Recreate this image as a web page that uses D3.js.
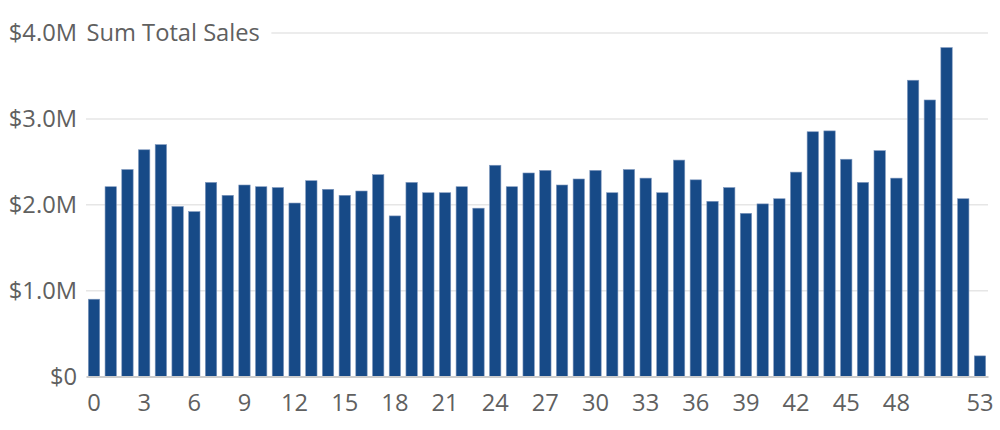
<!DOCTYPE html>
<html lang="en">
  <head>
    <meta charset="UTF-8" />
    <title>Sum Total Sales</title>
    <script src="https://cdn.jsdelivr.net/npm/d3@7"></script>
    <style>
      html, body { margin: 0; padding: 0; background: #fff; }
      svg text { font-family: 'Open Sans', 'Liberation Sans', Arial, sans-serif; fill: #606060; }
    </style>
  </head>
  <body>
    <div id="chart_svg"></div>
    <script>
      const weeks = [
        0, 1, 2, 3, 4, 5, 6, 7, 8, 9, 10, 11, 12, 13, 14, 15, 16, 17,
        18, 19, 20, 21, 22, 23, 24, 25, 26, 27, 28, 29, 30, 31, 32, 33, 34, 35,
        36, 37, 38, 39, 40, 41, 42, 43, 44, 45, 46, 47, 48, 49, 50, 51, 52, 53
      ]
      // weekly totals in $M
      const sales = [
        0.90, 2.21, 2.41, 2.64, 2.70, 1.98, 1.92, 2.26, 2.11, 2.23, 2.21, 2.20, 2.02, 2.28, 2.18, 2.11, 2.16, 2.35,
        1.87, 2.26, 2.14, 2.14, 2.21, 1.96, 2.46, 2.21, 2.37, 2.40, 2.23, 2.30, 2.40, 2.14, 2.41, 2.31, 2.14, 2.52,
        2.29, 2.04, 2.20, 1.90, 2.01, 2.07, 2.38, 2.85, 2.86, 2.53, 2.26, 2.63, 2.31, 3.45, 3.22, 3.83, 2.07, 0.24
      ]
      const xTicks = [0, 3, 6, 9, 12, 15, 18, 21, 24, 27, 30, 33, 36, 39, 42, 45, 48, 53]
      const yTicks = [0, 1, 2, 3, 4]
      const title = 'Sum Total Sales'

      const width = 1000
      const height = 430
      const margin = { top: 33, right: 12, bottom: 53.5, left: 86 }
      const fontSize = '23.7px'

      const svg = d3.select('#chart_svg')
        .append('svg')
        .attr('width', width)
        .attr('height', height)

      const x = d3.scaleBand()
        .domain(weeks)
        .range([margin.left, width - margin.right])
        .paddingInner(0.32)
        .paddingOuter(0.14)

      const y = d3.scaleLinear()
        .domain([0, 4])
        .range([height - margin.bottom, margin.top])

      const fmt = v => (v === 0 ? '$0' : '$' + v.toFixed(1) + 'M')

      // title sits on the top gridline, so measure it first
      const titleText = svg.append('text')
        .attr('x', margin.left + 0.5)
        .attr('y', y(4))
        .attr('dy', '0.35em')
        .style('font-size', fontSize)
        .text(title)
      const titleEnd = margin.left + titleText.node().getComputedTextLength() + 12

      // gridlines
      svg.append('g')
        .selectAll('line')
        .data(yTicks.filter(d => d > 0))
        .join('line')
        .attr('x1', d => (d === 4 ? titleEnd : margin.left))
        .attr('x2', width - margin.right)
        .attr('y1', d => y(d))
        .attr('y2', d => y(d))
        .attr('stroke', '#e6e6e6')
        .attr('stroke-width', 1.5)

      // y labels
      svg.append('g')
        .selectAll('text')
        .data(yTicks)
        .join('text')
        .attr('x', 77)
        .attr('y', d => y(d))
        .attr('dy', '0.35em')
        .attr('text-anchor', 'end')
        .style('font-size', fontSize)
        .text(fmt)

      // bars
      svg.append('g')
        .selectAll('rect')
        .data(weeks)
        .join('rect')
        .attr('x', d => x(d))
        .attr('width', x.bandwidth())
        .attr('y', (d, i) => y(sales[i]))
        .attr('height', (d, i) => y(0) - y(sales[i]))
        .attr('fill', '#174a87')
        .attr('stroke', '#7e97bd')
        .attr('stroke-width', 0.6)

      // x axis
      const xAxis = svg.append('g')
        .attr('transform', `translate(0,${y(0)})`)
        .call(d3.axisBottom(x).tickValues(xTicks).tickSize(0).tickPadding(18))
      xAxis.select('.domain')
        .attr('stroke', '#cccccc')
        .attr('stroke-width', 1.8)
      xAxis.selectAll('.tick text')
        .style('font-size', fontSize)
        .style('font-family', "'Open Sans', 'Liberation Sans', Arial, sans-serif")
        .attr('fill', '#606060')
    </script>
  </body>
</html>
